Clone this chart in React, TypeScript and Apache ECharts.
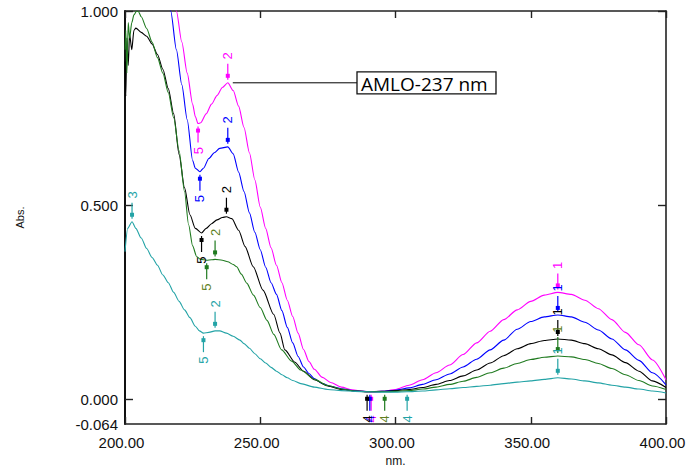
import { useEffect, useRef } from "react";
import * as echarts from "echarts";

// ---- Spectra (nm, Abs) ----
const magentaNm = [205, 210, 214, 217, 219, 221, 223, 225, 226, 227, 228, 230, 232, 234, 236, 238, 240, 242, 244, 246, 248, 250, 252, 254, 256, 258, 260, 262, 264, 266, 268, 270, 273, 276, 280, 284, 288, 291, 295, 300, 305, 310, 315, 320, 325, 330, 335, 340, 345, 350, 355, 360, 365, 370, 375, 380, 385, 390, 395, 400];
const magentaAbs = [1.6, 1.4, 1.2, 1.08, 1.0, 0.92, 0.84, 0.76, 0.728, 0.71, 0.712, 0.735, 0.76, 0.782, 0.803, 0.815, 0.795, 0.755, 0.7, 0.635, 0.565, 0.495, 0.44, 0.39, 0.345, 0.3, 0.255, 0.213, 0.17, 0.128, 0.097, 0.077, 0.056, 0.043, 0.031, 0.024, 0.02, 0.019, 0.02, 0.025, 0.036, 0.05, 0.068, 0.088, 0.115, 0.145, 0.175, 0.205, 0.23, 0.252, 0.268, 0.275, 0.27, 0.255, 0.233, 0.205, 0.172, 0.14, 0.101, 0.05];

const blueNm = [205, 210, 214, 216.9, 219, 221, 223, 225, 226, 227.7, 229, 231, 233, 235, 238, 240, 242, 244, 246, 248, 250, 252, 254, 256, 258, 260, 262, 264, 266, 268, 270, 273, 276, 280, 284, 288, 290.5, 295, 300, 305, 310, 315, 320, 325, 330, 335, 340, 345, 350, 355, 360, 365, 370, 375, 380, 385, 390, 395, 400];
const blueAbs = [1.5, 1.3, 1.1, 1.0, 0.9, 0.81, 0.72, 0.615, 0.595, 0.586, 0.595, 0.62, 0.635, 0.646, 0.65, 0.632, 0.585, 0.535, 0.48, 0.43, 0.385, 0.34, 0.3, 0.27, 0.228, 0.185, 0.145, 0.11, 0.083, 0.066, 0.053, 0.04, 0.033, 0.027, 0.022, 0.02, 0.019, 0.02, 0.023, 0.029, 0.038, 0.05, 0.065, 0.083, 0.103, 0.127, 0.152, 0.18, 0.2, 0.212, 0.217, 0.212, 0.198, 0.178, 0.155, 0.127, 0.1, 0.068, 0.037];

const blackNm = [200, 200.3, 200.7, 201.2, 201.7, 202.5, 203.3, 204, 206, 208, 210, 212, 214, 216, 218, 220, 222, 224, 226, 228.3, 230, 232, 234, 236, 237.5, 239.5, 242, 244.4, 247.4, 251, 255, 257.3, 259.1, 262.8, 266, 270, 275, 280, 285, 289.5, 295, 300, 305, 310, 315, 320, 325, 330, 335, 340, 345, 350, 355, 360, 365, 370, 375, 380, 385, 390, 395, 400];
const blackAbs = [0.87, 0.78, 0.93, 0.86, 0.94, 0.9, 0.95, 0.956, 0.945, 0.935, 0.915, 0.888, 0.85, 0.8, 0.735, 0.63, 0.545, 0.475, 0.44, 0.428, 0.44, 0.452, 0.462, 0.468, 0.47, 0.465, 0.435, 0.393, 0.341, 0.281, 0.218, 0.17, 0.127, 0.095, 0.072, 0.05, 0.034, 0.025, 0.021, 0.019, 0.02, 0.022, 0.025, 0.03, 0.038, 0.048, 0.06, 0.075, 0.093, 0.112, 0.13, 0.143, 0.151, 0.155, 0.152, 0.143, 0.13, 0.114, 0.094, 0.072, 0.047, 0.03];

const greenNm = [200, 200.3, 200.7, 201.2, 201.7, 202.5, 203.3, 204.3, 205, 206, 208, 210, 212, 214, 216, 218, 220, 222, 223.5, 225, 226.5, 228, 230.2, 232, 233.3, 236, 238, 240, 241.3, 243, 245, 247.5, 250, 252.5, 255, 257.9, 261.6, 265, 270, 275, 280, 285, 290, 296, 300, 305, 310, 315, 320, 325, 330, 335, 340, 345, 350, 355, 360, 365, 370, 375, 380, 385, 390, 395, 400];
const greenAbs = [0.9, 0.95, 0.84, 0.97, 0.93, 0.97, 0.99, 1.0, 0.998, 0.985, 0.955, 0.92, 0.88, 0.84, 0.79, 0.725, 0.64, 0.535, 0.45, 0.395, 0.367, 0.36, 0.358, 0.359, 0.36, 0.358, 0.354, 0.347, 0.341, 0.322, 0.299, 0.268, 0.236, 0.203, 0.167, 0.127, 0.098, 0.075, 0.051, 0.035, 0.026, 0.021, 0.019, 0.019, 0.02, 0.022, 0.026, 0.031, 0.038, 0.046, 0.056, 0.068, 0.08, 0.092, 0.102, 0.108, 0.111, 0.109, 0.102, 0.092, 0.079, 0.063, 0.048, 0.034, 0.025];

const tealNm = [200, 201, 202.6, 204, 206, 208, 210, 212, 214, 216, 218, 220, 222, 224, 226, 227.5, 229, 231, 233.3, 235, 237.5, 240, 242.5, 244, 246, 248, 250, 252, 254, 256, 258, 260, 262, 265, 270, 275, 280, 285, 290, 295, 300, 304.3, 310, 315, 320, 325, 330, 335, 340, 345, 350, 355, 360, 365, 370, 375, 380, 385, 390, 395, 400];
const tealAbs = [0.38, 0.44, 0.457, 0.44, 0.415, 0.388, 0.365, 0.345, 0.32, 0.3, 0.275, 0.252, 0.23, 0.21, 0.188, 0.176, 0.17, 0.172, 0.176, 0.176, 0.17, 0.162, 0.152, 0.143, 0.131, 0.117, 0.104, 0.093, 0.082, 0.072, 0.063, 0.055, 0.048, 0.04, 0.031, 0.025, 0.022, 0.02, 0.019, 0.018, 0.018, 0.019, 0.021, 0.024, 0.027, 0.03, 0.033, 0.036, 0.04, 0.044, 0.047, 0.051, 0.055, 0.052, 0.047, 0.042, 0.036, 0.031, 0.026, 0.021, 0.016];

// ---- Peak / valley picks (wavelength and its pick number) ----
const magentaPickNm = [227, 238, 291, 360];
const magentaPickLabel = ["5", "2", "4", "1"];
const bluePickNm = [227.7, 238, 290.5, 360];
const bluePickLabel = ["5", "2", "4", "1"];
const blackPickNm = [228.3, 237.5, 289.5, 360];
const blackPickLabel = ["5", "2", "4", "1"];
const greenPickNm = [230.2, 233.3, 296, 360];
const greenPickLabel = ["5", "2", "4", "1"];
const tealPickNm = [202.6, 229, 233.3, 304.3, 360];
const tealPickLabel = ["3", "5", "2", "4", "1"];
const valleyLabels = ["4", "5"];

// ---- Axis ticks ----
const xMin = 200;
const xMax = 400;
const xStep = 50;
const yMin = -0.064;
const yMax = 1.0;
const yLabelValues = [-0.064, 0, 0.5, 1.0];
const yTickValues = [0, 0.5, 1.0];

const calloutText = "AMLO-237 nm";
const calloutNm = 238;

const FONT = '"Liberation Sans", Arial, sans-serif';

function interp(nm: number[], abs: number[], x: number) {
  for (let i = 0; i < nm.length - 1; i++) {
    if (x >= nm[i] && x <= nm[i + 1]) {
      const t = (x - nm[i]) / (nm[i + 1] - nm[i]);
      return abs[i] + t * (abs[i + 1] - abs[i]);
    }
  }
  return abs[abs.length - 1];
}

const curves = [
  { name: "magenta", color: "#ff00ff", labelColor: "#ff00ff", nm: magentaNm, abs: magentaAbs, pickNm: magentaPickNm, pickLabel: magentaPickLabel },
  { name: "blue", color: "#0000ff", labelColor: "#0000ff", nm: blueNm, abs: blueAbs, pickNm: bluePickNm, pickLabel: bluePickLabel },
  { name: "black", color: "#000000", labelColor: "#000000", nm: blackNm, abs: blackAbs, pickNm: blackPickNm, pickLabel: blackPickLabel },
  { name: "green", color: "#1f7a1f", labelColor: "#5f7f1f", nm: greenNm, abs: greenAbs, pickNm: greenPickNm, pickLabel: greenPickLabel },
  { name: "teal", color: "#23a3a6", labelColor: "#23a3a6", nm: tealNm, abs: tealAbs, pickNm: tealPickNm, pickLabel: tealPickLabel },
];

export default function App() {
  const ref = useRef<HTMLDivElement>(null);

  useEffect(() => {
    if (!ref.current) return;
    const chart = echarts.init(ref.current, null, { renderer: "svg" });

    const lineSeries = curves.map((c) => ({
      type: "line",
      name: c.name,
      data: c.nm.map((x, i) => [x, c.abs[i]]),
      showSymbol: false,
      smooth: 0.25,
      smoothMonotone: "x",
      clip: true,
      silent: true,
      lineStyle: { color: c.color, width: 1.1 },
      itemStyle: { color: c.color },
      z: 2,
    }));

    const pickSeries = curves.map((c) => ({
      type: "custom",
      name: c.name + "-picks",
      coordinateSystem: "cartesian2d",
      clip: false,
      silent: true,
      z: 3,
      data: c.pickNm.map((x, i) => [x, interp(c.nm, c.abs, x), valleyLabels.includes(c.pickLabel[i]) ? -1 : 1]),
      encode: { x: 0, y: 1 },
      renderItem: (params: any, api: any) => {
        const p = api.coord([api.value(0), api.value(1)]);
        const d = api.value(2);
        const x = p[0];
        const y = p[1];
        return {
          type: "group",
          children: [
            { type: "line", shape: { x1: x, y1: y - d * 3, x2: x, y2: y - d * 19 }, style: { stroke: c.color, lineWidth: 1.2 } },
            { type: "rect", shape: { x: x - 2, y: y - d * 7 - 2, width: 4, height: 4 }, style: { fill: c.color } },
            {
              type: "text",
              x: x,
              y: y - d * 27,
              rotation: Math.PI / 2,
              style: { text: c.pickLabel[params.dataIndex], fill: c.labelColor, font: "13px " + FONT, align: "center", verticalAlign: "middle" },
            },
          ],
        };
      },
    }));

    const axisLineStyle = { color: "#222", width: 1.6 };

    chart.setOption({
      animation: false,
      backgroundColor: "#ffffff",
      grid: { left: 125, right: 22, top: 11, bottom: 44, containLabel: false, outerBoundsMode: "none" },
      xAxis: [
        {
          type: "value",
          position: "bottom",
          min: xMin,
          max: xMax,
          interval: xStep,
          axisLine: { show: true, onZero: false, lineStyle: axisLineStyle },
          axisTick: { show: true, inside: true, length: 7, lineStyle: { color: "#222", width: 1.4 } },
          splitLine: { show: false },
          axisLabel: {
            formatter: (v: number) => v.toFixed(2),
            color: "#111",
            fontSize: 15,
            fontFamily: FONT,
            margin: 11,
            padding: [0, 7, 0, 0],
          },
          name: "nm.",
          nameLocation: "middle",
          nameGap: 25,
          nameTextStyle: { color: "#111", fontSize: 12, fontFamily: FONT },
        },
        {
          type: "value",
          position: "top",
          min: xMin,
          max: xMax,
          interval: xStep,
          axisLine: { show: true, onZero: false, lineStyle: axisLineStyle },
          axisTick: { show: true, inside: true, length: 7, lineStyle: { color: "#222", width: 1.4 } },
          axisLabel: { show: false },
          splitLine: { show: false },
        },
      ],
      yAxis: [
        {
          type: "value",
          position: "left",
          min: yMin,
          max: yMax,
          axisLine: { show: true, onZero: false, lineStyle: { color: "#111", width: 2 } },
          axisTick: { show: true, inside: true, length: 8, customValues: yTickValues, lineStyle: { color: "#222", width: 1.4 } },
          axisLabel: {
            customValues: yLabelValues,
            formatter: (v: number) => v.toFixed(3),
            color: "#111",
            fontSize: 15,
            fontFamily: FONT,
            margin: 7,
          },
          splitLine: { show: false },
          name: "Abs.",
          nameLocation: "middle",
          nameRotate: 90,
          nameGap: 100,
          nameTextStyle: { color: "#111", fontSize: 11, fontFamily: FONT },
        },
        {
          type: "value",
          position: "right",
          min: yMin,
          max: yMax,
          axisLine: { show: true, onZero: false, lineStyle: axisLineStyle },
          axisTick: { show: true, inside: true, length: 8, customValues: yTickValues, lineStyle: { color: "#222", width: 1.4 } },
          axisLabel: { show: false },
          splitLine: { show: false },
        },
      ],
      series: [...lineSeries, ...pickSeries],
    });

    const peakAbs = interp(magentaNm, magentaAbs, calloutNm);
    const pt = chart.convertToPixel({ xAxisIndex: 0, yAxisIndex: 0 }, [calloutNm, peakAbs]) as number[];
    const boxX = 357;
    const boxW = 139;
    const boxH = 22;
    chart.setOption({
      graphic: [
        { type: "line", shape: { x1: pt[0] + 5, y1: pt[1], x2: boxX, y2: pt[1] }, style: { stroke: "#000", lineWidth: 1 }, z: 10 },
        { type: "rect", shape: { x: boxX, y: pt[1] - boxH / 2, width: boxW, height: boxH }, style: { fill: "#fff", stroke: "#111", lineWidth: 1.3 }, z: 10 },
        {
          type: "text",
          x: boxX + 4,
          y: pt[1] + 1,
          style: { text: calloutText, fill: "#000", font: '19px "Open Sans", sans-serif', align: "left", verticalAlign: "middle" },
          z: 11,
        },
      ],
    });

    return () => chart.dispose();
  }, []);

  return <div ref={ref} style={{ position: "absolute", left: 0, top: 0, width: 688, height: 468 }} />;
}
